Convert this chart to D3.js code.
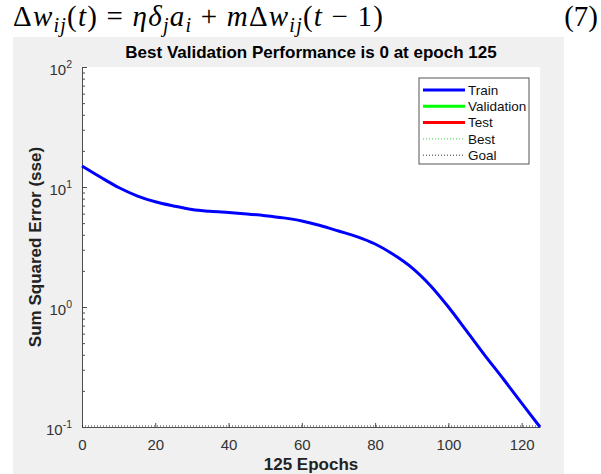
<!DOCTYPE html>
<html>
<head>
<meta charset="utf-8">
<script src="https://cdn.jsdelivr.net/npm/d3@7"></script>
<style>
  body { margin:0; background:#fff; }
  svg { display:block; }
</style>
</head>
<body>
<svg id="chart"></svg>
<script>
// training record
var epochs = [0,5,10,15,20,25,30,35,40,45,50,55,60,65,70,75,80,85,90,95,100,105,110,115,120,125];
var trainSSE = [14.96,12.1,9.9,8.45,7.53,6.95,6.50,6.27,6.12,5.96,5.77,5.53,5.21,4.78,4.30,3.86,3.35,2.74,2.13,1.52,1.00,0.63,0.394,0.251,0.158,0.100];
var goalValue = 0.1;
var xTicks = [0,20,40,60,80,100,120];
var yMajor = [0.1,1,10,100];
var legendNames = ["Train","Validation","Test","Best","Goal"];
var legendColors = ["#0000ff","#00ff00","#ff0000","#00c000","#000000"];

var screen = {width:601, height:474};
var margins = {top:67, bottom:47, left:82, right:61};
var graph = {
    width: screen.width - margins.left - margins.right,
    height: screen.height - margins.top - margins.bottom
};

var svg = d3.select("#chart")
    .attr("width", screen.width)
    .attr("height", screen.height)
    .style("font-family", "'Liberation Sans', Arial, sans-serif");

// formula line above the figure
var eq = svg.append("text")
    .attr("x", 13).attr("y", 26)
    .attr("textLength", 370)
    .attr("lengthAdjust", "spacing")
    .style("font-family", "'Liberation Serif', 'DejaVu Serif', serif")
    .style("font-size", "29px")
    .attr("fill", "#000");
var parts = [
    ["Δ",0,0],["w",1,0],["ij",1,1],["(",0,0],["t",1,0],[") = ",0,0],
    ["η",1,0],["δ",1,0],["j",1,1],["a",1,0],["i",1,1],[" + ",0,0],
    ["m",1,0],["Δ",0,0],["w",1,0],["ij",1,1],["(",0,0],["t",1,0],[" − 1)",0,0]
];
var wasSub = false;
parts.forEach(function(p) {
    var ts = eq.append("tspan").text(p[0]).style("font-style", p[1] ? "italic" : "normal");
    if (p[2]) { ts.attr("dy", 6).style("font-size", "20px"); wasSub = true; }
    else if (wasSub) { ts.attr("dy", -6); wasSub = false; }
});
svg.append("text")
    .attr("x", 598).attr("y", 26)
    .attr("text-anchor", "end")
    .style("font-family", "'Liberation Serif', 'DejaVu Serif', serif")
    .style("font-size", "29px")
    .text("(7)");

// figure panel
svg.append("rect")
    .attr("x", 13).attr("y", 37)
    .attr("width", 551).attr("height", 437)
    .attr("fill", "#f0f0f0");

var g = svg.append("g")
    .attr("transform", "translate(" + margins.left + "," + margins.top + ")");

g.append("rect")
    .attr("width", graph.width).attr("height", graph.height)
    .attr("fill", "#fff");

var xScale = d3.scaleLinear()
    .domain([0,125])
    .range([0, graph.width]);

var yScale = d3.scaleLog()
    .domain([0.1,100])
    .range([graph.height, 0]);

// axes
var xAxis = d3.axisBottom(xScale)
    .tickValues(xTicks)
    .tickSizeInner(-4)
    .tickSizeOuter(0)
    .tickPadding(12);

var gx = g.append("g")
    .attr("transform", "translate(0," + graph.height + ")")
    .call(xAxis);

var minor = [];
[0.1,1,10].forEach(function(d) {
    for (var k = 2; k <= 9; k++) minor.push(d * k);
});

g.append("g")
    .call(d3.axisLeft(yScale).tickValues(minor).tickSizeInner(-3).tickSizeOuter(0).tickFormat(""))
    .select(".domain").remove();

var gy = g.append("g")
    .call(d3.axisLeft(yScale).tickValues(yMajor).tickSizeInner(-5).tickSizeOuter(0).tickPadding(10)
        .tickFormat(function(d) { return ""; }));

gy.selectAll(".tick text").each(function(d) {
    var t = d3.select(this);
    t.append("tspan").text("10");
    t.append("tspan").text(Math.round(Math.log10(d)))
        .attr("dy", -7).style("font-size", "10.5px");
    t.attr("dy", "0.5em");
});

g.selectAll(".domain").attr("stroke", "#4d4d4d");
g.selectAll(".tick line").attr("stroke", "#4d4d4d");
g.selectAll(".tick text")
    .attr("fill", "#333")
    .style("font-size", "15px")
    .style("font-family", "'Liberation Sans', Arial, sans-serif");

// goal line
g.append("line")
    .attr("x1", 0).attr("x2", graph.width)
    .attr("y1", yScale(goalValue) - 1).attr("y2", yScale(goalValue) - 1)
    .attr("stroke", "#000")
    .attr("stroke-width", 0.8)
    .attr("stroke-dasharray", "1,2");

// training curve
var line = d3.line()
    .x(function(d, i) { return xScale(epochs[i]); })
    .y(function(d) { return yScale(d); })
    .curve(d3.curveCatmullRom.alpha(0.5));

g.append("path")
    .datum(trainSSE)
    .attr("d", line)
    .attr("fill", "none")
    .attr("stroke", "#0000ff")
    .attr("stroke-width", 3);

// titles
svg.append("text")
    .attr("x", margins.left + graph.width / 2).attr("y", 58)
    .attr("text-anchor", "middle")
    .style("font-weight", "bold")
    .style("font-size", "17px")
    .attr("fill", "#000")
    .text("Best Validation Performance is 0 at epoch 125");

svg.append("text")
    .attr("x", margins.left + graph.width / 2).attr("y", 470)
    .attr("text-anchor", "middle")
    .style("font-weight", "bold")
    .style("font-size", "17px")
    .attr("fill", "#222")
    .text("125 Epochs");

svg.append("text")
    .attr("transform", "translate(41," + (margins.top + graph.height / 2) + ") rotate(-90)")
    .attr("text-anchor", "middle")
    .style("font-weight", "bold")
    .style("font-size", "17px")
    .attr("fill", "#222")
    .text("Sum Squared Error  (sse)");

// legend
var legend = svg.append("g").attr("transform", "translate(419,78)");
legend.append("rect")
    .attr("width", 110).attr("height", 86)
    .attr("fill", "#fff")
    .attr("stroke", "#555")
    .attr("stroke-width", 1);

var items = legend.selectAll(".item")
    .data(legendNames)
    .enter()
    .append("g")
    .attr("transform", function(d, i) { return "translate(0," + (12 + i * 16.3) + ")"; });

items.append("line")
    .attr("x1", 4).attr("x2", 46)
    .attr("stroke", function(d, i) { return legendColors[i]; })
    .attr("stroke-width", function(d, i) { return i < 3 ? 3 : 0.8; })
    .attr("stroke-dasharray", function(d, i) { return i < 3 ? null : "1,2"; });

items.append("text")
    .attr("x", 49).attr("dy", "0.36em")
    .style("font-size", "13.5px")
    .attr("fill", "#111")
    .text(function(d) { return d; });
</script>
</body>
</html>
